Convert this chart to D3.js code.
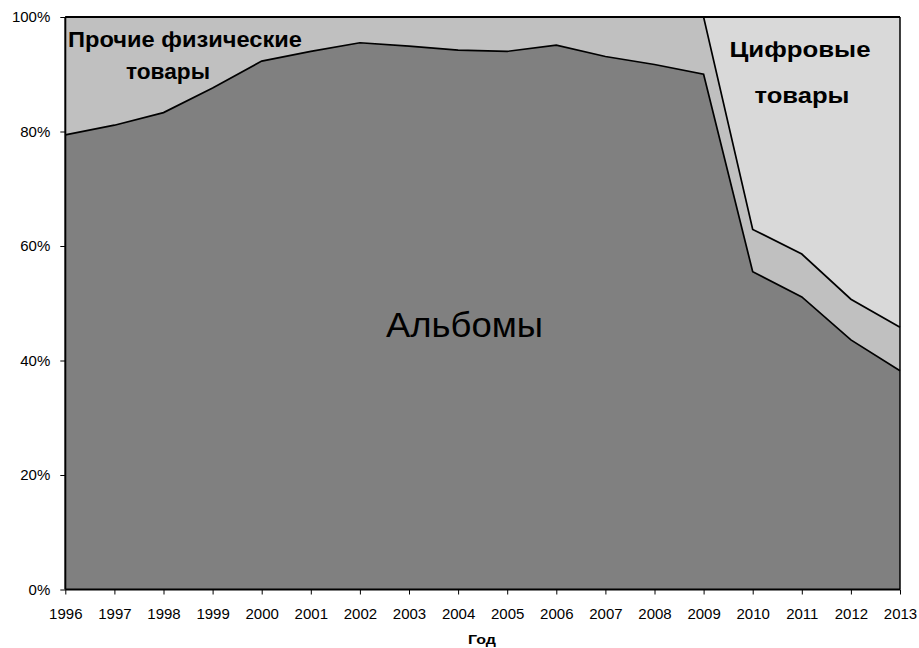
<!DOCTYPE html>
<html><head><meta charset="utf-8">
<script src="https://cdn.jsdelivr.net/npm/d3@7"></script>
<style>body{margin:0;background:#fff}svg{display:block}text{font-family:"Liberation Sans",Arial,sans-serif}</style>
</head><body><svg id="c" width="919" height="648"></svg>
<script>
const years = [1996,1997,1998,1999,2000,2001,2002,2003,2004,2005,2006,2007,2008,2009,2010,2011,2012,2013];
const albums = [79.4,81.1,83.3,87.6,92.3,94.0,95.5,94.9,94.2,94.0,95.1,93.1,91.7,90.0,55.5,51.1,43.6,38.2];
const otherPhysical = [20.6,18.9,16.7,12.4,7.7,6.0,4.5,5.1,5.8,6.0,4.9,6.9,8.3,10.0,7.4,7.5,7.1,7.6];
const digital = [0,0,0,0,0,0,0,0,0,0,0,0,0,0,37.1,41.4,49.3,54.2];
const yTicks = [0,20,40,60,80,100];
const seriesNames = ["Альбомы","Прочие физические товары","Цифровые товары"];
const colors = ["#808080","#c0c0c0","#d9d9d9"];

const svg = d3.select("#c");
const L = 65.3, R = 900, T = 17, B = 589.5;
const x = d3.scaleLinear().domain([years[0], years[years.length-1]]).range([L, R]);
const y = d3.scaleLinear().domain([0, 100]).range([B, T]);

const table = years.map((yr, i) => ({year: yr, a: albums[i], o: otherPhysical[i], d: digital[i]}));
const stack = d3.stack().keys(["a","o","d"]);
const layers = stack(table);

const area = d3.area().x(d => x(d.data.year)).y0(d => y(d[0])).y1(d => y(d[1]));
const line = d3.line().x(d => x(d.data.year)).y(d => y(d[1]));

svg.append("g").selectAll("path").data(layers).join("path")
  .attr("d", area).attr("fill", (d, i) => colors[i]).attr("stroke", "none");
svg.append("g").selectAll("path").data(layers.slice(0,2)).join("path")
  .attr("d", line).attr("fill", "none").attr("stroke", "#000").attr("stroke-width", 1.7).attr("stroke-linejoin","miter");

// frame
svg.append("line").attr("x1", L).attr("x2", R).attr("y1", T).attr("y2", T).attr("stroke", "#000").attr("stroke-width", 2);
svg.append("line").attr("x1", R).attr("x2", R).attr("y1", T).attr("y2", B).attr("stroke", "#000").attr("stroke-width", 1.5);

// axes
const FONT = "'Liberation Sans',Arial,sans-serif";
const yAxis = d3.axisLeft(y).tickValues(yTicks).tickFormat(d => d + "%").tickSize(5).tickPadding(10);
const gy = svg.append("g").attr("transform", `translate(${L},0)`).call(yAxis);
gy.attr("font-family", FONT).attr("font-size", 15);
gy.select(".domain").attr("stroke-width", 2).attr("d", `M0,${T}V${B}`);
gy.selectAll("text").attr("fill", "#000");

const xAxis = d3.axisBottom(x).tickValues(years).tickFormat(d3.format("d")).tickSize(5).tickPadding(14);
const gx = svg.append("g").attr("transform", `translate(0,${B})`).call(xAxis);
gx.attr("font-family", FONT).attr("font-size", 15);
gx.select(".domain").attr("stroke-width", 2).attr("d", `M${L},0H${R}`);
gx.selectAll("text").attr("fill", "#000");

svg.append("text").attr("x", 482).attr("y", 644).attr("text-anchor", "middle")
  .attr("font-size", "12.5px").attr("font-weight", "bold")
  .attr("textLength", 28).attr("lengthAdjust", "spacingAndGlyphs").text("Год");

// series labels
function label(txt, cx, by, size, width, bold) {
  svg.append("text").attr("x", cx).attr("y", by).attr("text-anchor", "middle")
    .attr("font-size", size + "px").attr("font-weight", bold ? "bold" : "normal")
    .attr("textLength", width).attr("lengthAdjust", "spacingAndGlyphs").text(txt);
}
label("Прочие физические", 185, 47, 21.5, 234, true);
label("товары", 168, 79, 21.5, 84, true);
label("Цифровые", 800, 57, 22.5, 141, true);
label("товары", 802, 103, 22.5, 95, true);
label(seriesNames[0], 464.5, 337, 35, 157, false);
</script></body></html>
